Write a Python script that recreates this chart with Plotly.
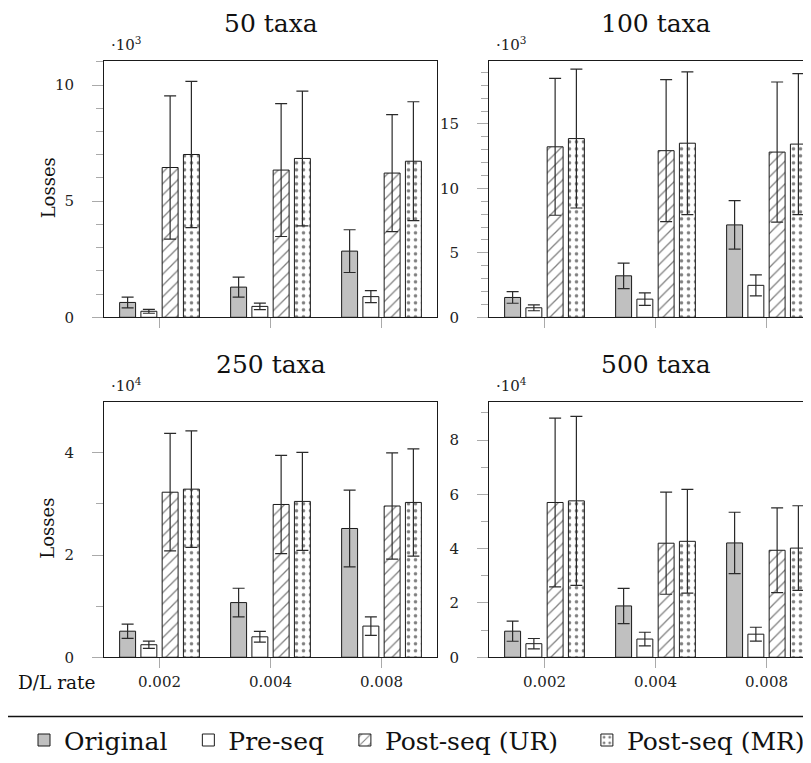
import plotly.graph_objects as go

W, H = 811, 763

categories = ["0.002", "0.004", "0.008"]
series_names = ["Original", "Pre-seq", "Post-seq (UR)", "Post-seq (MR)"]
panel_titles = ["50 taxa", "100 taxa", "250 taxa", "500 taxa"]
panel_exponents = [3, 3, 4, 4]

# values in units of 10^3 (50, 100 taxa) or 10^4 (250, 500 taxa)
orig_50 = [0.64, 1.30, 2.85]
orig_50_err = [0.23, 0.43, 0.92]
pre_50 = [0.26, 0.47, 0.89]
pre_50_err = [0.085, 0.14, 0.255]
ur_50 = [6.45, 6.34, 6.21]
ur_50_err = [3.08, 2.86, 2.52]
mr_50 = [7.01, 6.84, 6.72]
mr_50_err = [3.15, 2.90, 2.56]

orig_100 = [1.54, 3.22, 7.17]
orig_100_err = [0.45, 0.99, 1.88]
pre_100 = [0.74, 1.41, 2.48]
pre_100_err = [0.23, 0.48, 0.81]
ur_100 = [13.23, 12.93, 12.82]
ur_100_err = [5.31, 5.51, 5.44]
mr_100 = [13.87, 13.51, 13.44]
mr_100_err = [5.39, 5.54, 5.47]

orig_250 = [0.51, 1.07, 2.52]
orig_250_err = [0.14, 0.28, 0.75]
pre_250 = [0.245, 0.40, 0.61]
pre_250_err = [0.07, 0.105, 0.18]
ur_250 = [3.23, 2.99, 2.96]
ur_250_err = [1.15, 0.96, 1.04]
mr_250 = [3.29, 3.05, 3.03]
mr_250_err = [1.14, 0.96, 1.05]

orig_500 = [0.96, 1.89, 4.21]
orig_500_err = [0.37, 0.65, 1.13]
pre_500 = [0.50, 0.67, 0.85]
pre_500_err = [0.19, 0.25, 0.255]
ur_500 = [5.70, 4.20, 3.94]
ur_500_err = [3.11, 1.88, 1.56]
mr_500 = [5.76, 4.27, 4.02]
mr_500_err = [3.11, 1.91, 1.56]

panels = [
    [(orig_50, orig_50_err), (pre_50, pre_50_err), (ur_50, ur_50_err), (mr_50, mr_50_err)],
    [(orig_100, orig_100_err), (pre_100, pre_100_err), (ur_100, ur_100_err), (mr_100, mr_100_err)],
    [(orig_250, orig_250_err), (pre_250, pre_250_err), (ur_250, ur_250_err), (mr_250, mr_250_err)],
    [(orig_500, orig_500_err), (pre_500, pre_500_err), (ur_500, ur_500_err), (mr_500, mr_500_err)],
]

FONT = "DejaVu Serif, Liberation Serif, serif"
NB = "\u00a0"
legend_labels = ["Original" + NB * 2, "Pre-seq" + NB * 2, "Post-seq (UR)" + NB * 3, "Post-seq (MR)"]
styles = [
    dict(color="#c0c0c0", pattern=dict(shape="")),
    dict(color="white", pattern=dict(shape="")),
    dict(color="white", pattern=dict(shape="/", fgcolor="black", bgcolor="white", size=8, solidity=0.16)),
    dict(color="white", pattern=dict(shape=".", fgcolor="black", bgcolor="white", size=7, solidity=0.2)),
]

# pixel geometry of panels (left, right, top, bottom)
boxes = [(96, 429, 54, 313), (481, 811, 54, 313), (96, 429, 399, 657), (481, 811, 399, 657)]
yranges = [11.02, 19.86, 4.99, 9.39]
ydticks = [5, 5, 2, 2]

fig = go.Figure()
for p, series in enumerate(panels):
    ax = "" if p == 0 else str(p + 1)
    for s, (vals, errs) in enumerate(series):
        st = styles[s]
        fig.add_trace(go.Bar(
            x=categories, y=vals, name=legend_labels[s],
            legendgroup=series_names[s], showlegend=(p == 0),
            xaxis="x" + ax, yaxis="y" + ax,
            marker=dict(color=st["color"], pattern=st["pattern"],
                        line=dict(color="#1a1a1a", width=1)),
            error_y=dict(type="data", array=errs, visible=True,
                         color="#2a2a2a", thickness=1.2, width=6),
        ))

layout = dict(
    width=W, height=H, margin=dict(l=0, r=0, t=0, b=0),
    paper_bgcolor="white", plot_bgcolor="white",
    barmode="group", bargap=0.234, bargroupgap=0.25,
    font=dict(family=FONT, color="#222"),
    showlegend=True,
    legend=dict(orientation="h", x=16 / W, xanchor="left",
                y=1 - 741 / H, yanchor="middle",
                font=dict(family=FONT, size=25, color="#111"),
                bgcolor="rgba(0,0,0,0)", traceorder="normal"),
)

annotations = []
shapes = []
for p in range(4):
    L, R, T, B = boxes[p]
    ax = "" if p == 0 else str(p + 1)
    xa = "xaxis" + ax
    ya = "yaxis" + ax
    full_right = (p % 2 == 0)
    xr_end = 2.5 if full_right else -0.5 + (R - L) / 111.0
    layout[xa] = dict(
        domain=[L / W, R / W], range=[-0.5, xr_end], anchor="y" + ax,
        showline=True, linecolor="#1a1a1a", linewidth=1, mirror=True,
        ticks="outside", ticklen=10, tickcolor="#aaaaaa", tickwidth=1,
        showticklabels=(p >= 2), tickfont=dict(family=FONT, size=15, color="#222"),
        ticklabelstandoff=1, showgrid=False, zeroline=False, fixedrange=True,
    )
    layout[ya] = dict(
        domain=[1 - B / H, 1 - T / H], range=[0, yranges[p]], anchor="x" + ax,
        showline=True, linecolor="#1a1a1a", linewidth=1, mirror=full_right,
        ticks="outside", ticklen=11, tickcolor="#aaaaaa", tickwidth=1,
        dtick=ydticks[p], tick0=0,
        minor=dict(dtick=1, ticks="outside", ticklen=7, tickcolor="#aaaaaa", tickwidth=1),
        tickfont=dict(family=FONT, size=15, color="#222"), ticklabelstandoff=15,
        showgrid=False, zeroline=False, fixedrange=True,
    )
    cx = (L + (L + 333)) / 2
    annotations.append(dict(text=panel_titles[p], xref="paper", yref="paper",
                            x=cx / W, y=1 - (T - 38) / H, xanchor="center", yanchor="middle",
                            showarrow=False, font=dict(family=FONT, size=25, color="#111")))
    annotations.append(dict(text="\u00b710<sup>%d</sup>" % panel_exponents[p], xref="paper", yref="paper",
                            x=(L + 5) / W, y=1 - (T - 18) / H, xanchor="left", yanchor="middle",
                            showarrow=False, font=dict(family=FONT, size=15, color="#222")))
    if p % 2 == 0:
        annotations.append(dict(text="Losses", xref="paper", yref="paper",
                                x=40 / W, y=1 - ((T + B) / 2 - 1) / H, xanchor="center", yanchor="middle",
                                textangle=-90, showarrow=False,
                                font=dict(family=FONT, size=18, color="#111")))

annotations.append(dict(text="D/L rate", xref="paper", yref="paper",
                        x=8 / W, y=1 - 683 / H, xanchor="left", yanchor="middle",
                        showarrow=False, font=dict(family=FONT, size=18.5, color="#111")))
shapes.append(dict(type="line", xref="paper", yref="paper", x0=0, x1=1,
                   y0=1 - 717 / H, y1=1 - 717 / H, line=dict(color="#111", width=1.5)))

layout["annotations"] = annotations
layout["shapes"] = shapes
fig.update_layout(**layout)
fig.write_html("out.html")
